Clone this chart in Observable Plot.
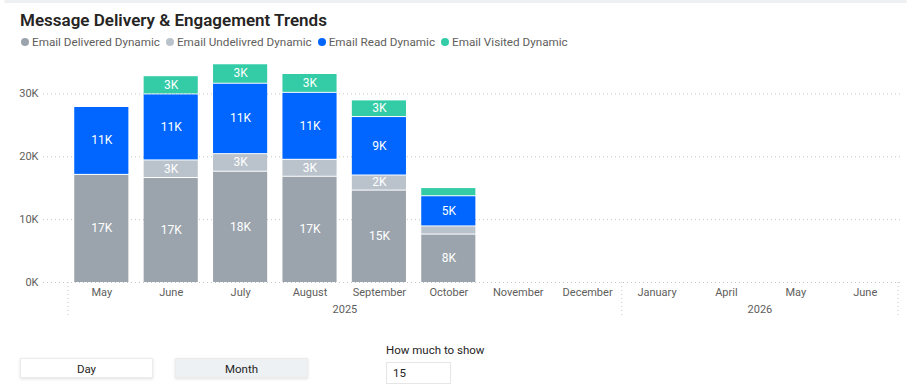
<!DOCTYPE html>
<html>
<head>
<meta charset="utf-8">
<script src="https://cdn.jsdelivr.net/npm/d3@7"></script>
<script src="https://cdn.jsdelivr.net/npm/@observablehq/plot@0.6"></script>
<style>
  body { margin: 0; background: #fff; font-family: Roboto, "Segoe UI", sans-serif; }
  #card { position: relative; width: 907px; height: 387px; overflow: hidden; background: #fff; }
  .edge { position: absolute; left: 4px; right: 0; top: 0; height: 3px; background: #eef0f2; border-radius: 3px; }
  #title { position: absolute; left: 20px; top: 12px; font-size: 17px; line-height: 1; font-weight: 600; color: #252423; white-space: nowrap; }
  #legend { position: absolute; left: 21px; top: 35px; display: flex; align-items: center; gap: 6px; font-size: 11.7px; color: #605e5c; white-space: nowrap; line-height: 14px; }
  #legend .item { display: flex; align-items: center; gap: 3px; }
  #legend .dot { width: 8px; height: 8px; border-radius: 50%; display: inline-block; }
  #chart { position: absolute; left: 0; top: 52px; }
  .btn { position: absolute; top: 358px; width: 133px; height: 20px; line-height: 20px; text-align: center; font-size: 11.5px; color: #252423; background: #fff; box-shadow: 0 1px 3px rgba(0,0,0,0.12); border: 1px solid #ececec; box-sizing: border-box; }
  .btn.sel { background: #eef1f4; }
  #howlabel { position: absolute; left: 386px; top: 343px; font-size: 11.5px; color: #252423; }
  #howbox { position: absolute; left: 386px; top: 362px; width: 65px; height: 22px; box-sizing: border-box; border: 1px solid #e6e6e6; font-size: 11.5px; color: #252423; line-height: 20px; padding-left: 6px; }
</style>
</head>
<body>
<div id="card">
  <div class="edge"></div>
  <div id="title">Message Delivery &amp; Engagement Trends</div>
  <div id="legend"></div>
  <div id="chart"></div>
  <div class="btn" style="left:20px">Day</div>
  <div class="btn sel" style="left:175px">Month</div>
  <div id="howlabel">How much to show</div>
  <div id="howbox">15</div>
</div>
<script>
// Monthly categories shown on the x axis (two-level: month over year)
const months = ["May", "June", "July", "August", "September", "October", "November", "December", "January", "April", "May", "June"];
const years = [2025, 2025, 2025, 2025, 2025, 2025, 2025, 2025, 2026, 2026, 2026, 2026];

// Stacked series, bottom to top
const series = ["Email Delivered Dynamic", "Email Undelivred Dynamic", "Email Read Dynamic", "Email Visited Dynamic"];
const colors = ["#9ba4ad", "#bac3cc", "#0066ff", "#33cca6"];

const delivered   = [17200, 16700, 17700, 16900, 14700, 7700, null, null, null, null, null, null];
const undelivered = [0, 2800, 2800, 2700, 2400, 1300, null, null, null, null, null, null];
const read        = [10800, 10500, 11200, 10650, 9300, 4800, null, null, null, null, null, null];
const visited     = [0, 2900, 3100, 3000, 2650, 1300, null, null, null, null, null, null];

const yTicks = [0, 10000, 20000, 30000];

// Unique key per month/year so repeated month names stay distinct
const keys = months.map((m, i) => `${years[i]}-${i}`);
const monthOf = Object.fromEntries(keys.map((k, i) => [k, months[i]]));

const seriesValues = [delivered, undelivered, read, visited];
const rows = [];
series.forEach((s, si) => {
  seriesValues[si].forEach((v, i) => {
    if (v != null && v > 0) rows.push({key: keys[i], series: s, value: v});
  });
});

// Legend
const legend = d3.select("#legend");
series.forEach((s, i) => {
  const item = legend.append("div").attr("class", "item");
  item.append("span").attr("class", "dot").style("background", colors[i]);
  item.append("span").text(s);
});

const fmtK = v => `${Math.round(v / 1000)}K`;

const chart = Plot.plot({
  width: 907,
  height: 270,
  marginTop: 10,
  marginBottom: 40,
  marginLeft: 43,
  marginRight: 7,
  style: {fontFamily: "Roboto, sans-serif", fontSize: "11px", color: "#605e5c", background: "transparent"},
  x: {type: "band", domain: keys, paddingInner: 0.22, paddingOuter: 0.09, round: false, insetLeft: 25, insetRight: 2, label: null},
  y: {domain: [0, 35000], label: null},
  color: {domain: series, range: colors},
  marks: [
    Plot.ruleY(yTicks, {stroke: "#c8c6c4", strokeDasharray: "1,3"}),
    Plot.barY(rows, {x: "key", y: "value", z: "series", fill: "series", insetTop: 1}),
    Plot.text(rows, Plot.stackY({
      x: "key", y: "value", z: "series",
      text: d => d.value >= 2000 ? fmtK(d.value) : "",
      fill: "white", fontSize: 12
    })),
    Plot.axisY({ticks: yTicks, tickSize: 0, tickPadding: 5, tickFormat: d => `${d / 1000}K`}),
    Plot.axisX({tickSize: 0, tickPadding: 6, tickFormat: k => monthOf[k]})
  ]
});

document.getElementById("chart").appendChild(chart);

// Year level of the x axis: dotted group separators and centred year labels
const xs = chart.scale("x");
const half = (xs.step - xs.bandwidth) / 2;
const [r0, r1] = xs.range;
const yBase = chart.scale("y").apply(0);
const groups = d3.groups(keys.map((k, i) => ({k, year: years[i]})), d => d.year);
const svg = d3.select(chart);
const g = svg.append("g");
const sep = x => g.append("line").attr("x1", x).attr("x2", x).attr("y1", yBase).attr("y2", yBase + 36)
  .attr("stroke", "#c8c6c4").attr("stroke-dasharray", "1,3");
groups.forEach(([year, items], gi) => {
  const x0 = gi === 0 ? r0 : xs.apply(items[0].k) - half;
  const x1 = gi === groups.length - 1 ? r1 : xs.apply(items[items.length - 1].k) + xs.bandwidth + half;
  if (gi === 0) sep(x0);
  sep(x1);
  g.append("text").attr("x", (x0 + x1) / 2).attr("y", yBase + 31)
    .attr("text-anchor", "middle").attr("fill", "#605e5c")
    .style("font-family", "Roboto, sans-serif").style("font-size", "11px")
    .text(year);
});
</script>
</body>
</html>
